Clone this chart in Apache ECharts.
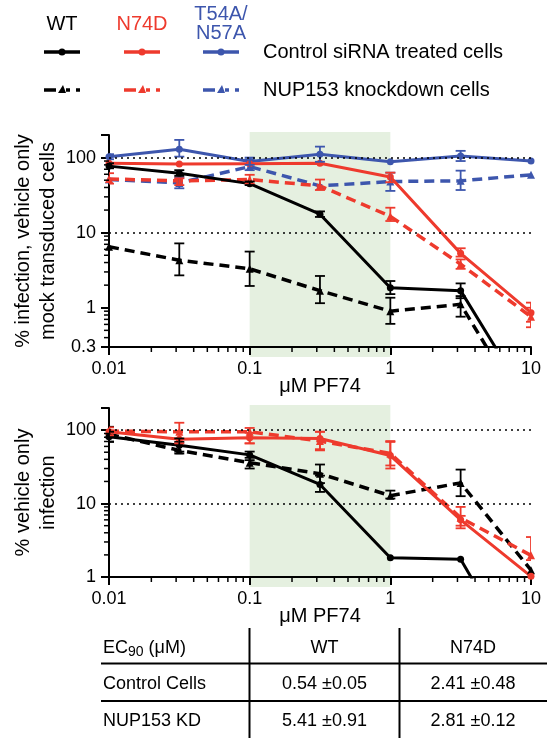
<!DOCTYPE html>
<html><head><meta charset="utf-8">
<script src="https://cdn.jsdelivr.net/npm/echarts@6/dist/echarts.min.js"></script>
<style>html,body{margin:0;padding:0;background:#fff}#c{width:547px;height:738px}</style>
</head><body><div id="c"></div>
<script>
// ---------- data ----------
const conc = [0.01, 0.0316, 0.1, 0.316, 1, 3.16, 10];
const xTicks = [0.01, 0.1, 1, 10];

// top panel: % infection, vehicle only mock transduced cells
const topWT      = [77, 62, 45, 17.6, 1.85, 1.69, 0.05];
const topWTLo    = [72, 57, 43, 16.2, 1.52, 1.34, null];
const topWTHi    = [84, 68, 48, 19.2, 2.27, 2.11, null];
const topWTkd    = [6.5, 4.3, 3.3, 1.69, 0.90, 1.11, 0.032];
const topWTkdLo  = [null, 2.7, 1.95, 1.15, 0.61, 0.76, null];
const topWTkdHi  = [null, 7.2, 5.6, 2.65, 1.36, 1.43, null];
const topN74D    = [84, 82, 83, 84, 55, 5.3, 0.86];
const topN74DLo  = [null, null, null, null, 47, 4.8, 0.65];
const topN74DHi  = [null, null, null, null, 63, 6.2, 1.17];
const topN74Dkd   = [52, 49, 51, 42, 16.5, 3.8, 0.76];
const topN74DkdLo = [45, 43, 45, 37, 14.3, 3.3, 0.55];
const topN74DkdHi = [62, 53, 59, 51, 21.5, 4.4, 1.0];
const topT54     = [103, 129, 89, 111, 88, 105, 90];
const topT54Lo   = [95, 103, 80, 88, null, 90, null];
const topT54Hi   = [111, 172, 100, 140, null, 123, null];
const topT54kd   = [51, 46, 76, 42, 48, 49, 59];
const topT54kdLo = [null, 39, 68, null, 36, 37, null];
const topT54kdHi = [null, 54, 95, null, 63, 67, null];

// bottom panel: % vehicle only infection
const botWT      = [81, 62, 46, 18.2, 1.83, 1.74, 0.04];
const botWTLo    = [70, 51, 39, 14.4, null, null, null];
const botWTHi    = [95, 77, 51, 24, 2.7, 2.6, null];
const botWTkd    = [88, 53, 36, 25.5, 12.8, 19.1, 1.24];
const botWTkdLo  = [69, 48, 30, 19, 11.7, 12.6, null];
const botWTkdHi  = [111, 69, 42, 34, 15, 29, null];
const botN74D    = [95, 75, 79, 77, 45, 6.0, 1.02];
const botN74DLo  = [null, null, 66, 53, 30, 4.6, null];
const botN74DHi  = [null, null, 92, 95, 69, 6.8, null];
const botN74Dkd   = [97, 95, 95, 71, 48, 6.4, 1.97];
const botN74DkdLo = [85, 66, 66, 55, 33, 5.0, 1.7];
const botN74DkdHi = [109, 126, 107, 95, 71, 9.0, 3.5];

// table
const tableHead = ['WT', 'N74D'];
const tableRows = ['Control Cells', 'NUP153 KD'];
const tableVals = [['0.54 ±0.05', '2.41 ±0.48'], ['5.41 ±0.91', '2.81 ±0.12']];

// ---------- styling ----------
const BLACK = '#000000', RED = '#ee3a2d', BLUE = '#3d56ad';
const FONT = '"Liberation Sans", Arial, Helvetica, sans-serif';
const chart = echarts.init(document.getElementById('c'), null, {renderer: 'canvas'});

function fmt(v) { return String(Number(Number(v).toPrecision(3))); }

function lineS(gi, vals, color, dashed) {
  return {
    type: 'line', xAxisIndex: gi, yAxisIndex: gi,
    data: conc.map((c, i) => [c, vals[i]]),
    symbol: dashed ? 'triangle' : 'circle',
    symbolSize: dashed ? 8 : 7,
    showSymbol: true, clip: true, animation: false, z: 3,
    lineStyle: {color: color, width: dashed ? 3.5 : 3, type: dashed ? [10, 6] : 'solid'},
    itemStyle: {color: color, borderWidth: 0}
  };
}
function errS(gi, lo, hi, color) {
  const d = [];
  conc.forEach((c, i) => { if (lo[i] != null) d.push([c, lo[i], hi[i]]); });
  return {
    type: 'custom', xAxisIndex: gi, yAxisIndex: gi, data: d, clip: true, animation: false, z: 4,
    encode: {x: 0, y: [1, 2]},
    renderItem: function (params, api) {
      const p1 = api.coord([api.value(0), api.value(1)]);
      const p2 = api.coord([api.value(0), api.value(2)]);
      const st = {stroke: color, lineWidth: 1.8};
      return {type: 'group', children: [
        {type: 'line', shape: {x1: p1[0], y1: p1[1], x2: p2[0], y2: p2[1]}, style: st},
        {type: 'line', shape: {x1: p1[0] - 5, y1: p1[1], x2: p1[0] + 5, y2: p1[1]}, style: st},
        {type: 'line', shape: {x1: p2[0] - 5, y1: p2[1], x2: p2[0] + 5, y2: p2[1]}, style: st}
      ]};
    }
  };
}
const refLines = {
  silent: true, symbol: ['none', 'none'], label: {show: false}, animation: false,
  lineStyle: {color: '#000', type: [2, 4], width: 1.6},
  data: [{yAxis: 100}, {yAxis: 10}]
};

function xAx(gi) {
  return {
    type: 'log', logBase: 10, gridIndex: gi, min: 0.01, max: 10,
    axisLine: {lineStyle: {color: '#000', width: 2}},
    axisTick: {length: 8, lineStyle: {color: '#000', width: 2}},
    axisLabel: {fontSize: 18, color: '#000', margin: 13, formatter: fmt, fontFamily: FONT},
    splitLine: {show: false},
    name: 'μM PF74', nameLocation: 'middle', nameGap: 29, nameMoveOverlap: false,
    nameTextStyle: {fontSize: 20, color: '#000', fontFamily: FONT}
  };
}
function yAx(gi, min, name) {
  return {
    type: 'log', logBase: 10, gridIndex: gi, min: min, max: 200,
    axisLine: {show: true, lineStyle: {color: '#000', width: 2}},
    axisTick: {show: true, length: 8, lineStyle: {color: '#000', width: 2}},
    axisLabel: {fontSize: 18, color: '#000', margin: 13, fontFamily: FONT,
      formatter: v => (v > 150 ? '' : fmt(v))},
    splitLine: {show: false},
    name: name, nameLocation: 'middle', nameGap: 48, nameRotate: 90, nameMoveOverlap: false,
    nameTextStyle: {fontSize: 20, lineHeight: 25, color: '#000', fontFamily: FONT, align: 'center'}
  };
}

const s0 = lineS(0, topT54kd, BLUE, true); s0.markLine = refLines;
const b0 = lineS(1, botWTkd, BLACK, true); b0.markLine = refLines;

chart.setOption({
  animation: false,
  textStyle: {fontFamily: FONT},
  grid: [
    {left: 109, top: 135, width: 422, height: 212},
    {left: 109, top: 408, width: 422, height: 169}
  ],
  xAxis: [xAx(0), xAx(1)],
  yAxis: [yAx(0, 0.3, '% infection, vehicle only\nmock transduced cells'),
          yAx(1, 1, '% vehicle only\ninfection')],
  series: [
    s0,
    lineS(0, topT54, BLUE, false),
    lineS(0, topN74Dkd, RED, true),
    lineS(0, topN74D, RED, false),
    lineS(0, topWTkd, BLACK, true),
    lineS(0, topWT, BLACK, false),
    errS(0, topT54kdLo, topT54kdHi, BLUE),
    errS(0, topT54Lo, topT54Hi, BLUE),
    errS(0, topN74DkdLo, topN74DkdHi, RED),
    errS(0, topN74DLo, topN74DHi, RED),
    errS(0, topWTkdLo, topWTkdHi, BLACK),
    errS(0, topWTLo, topWTHi, BLACK),
    b0,
    lineS(1, botN74Dkd, RED, true),
    lineS(1, botN74D, RED, false),
    lineS(1, botWT, BLACK, false),
    errS(1, botWTkdLo, botWTkdHi, BLACK),
    errS(1, botN74DkdLo, botN74DkdHi, RED),
    errS(1, botN74DLo, botN74DHi, RED),
    errS(1, botWTLo, botWTHi, BLACK)
  ]
});

// ---------- decorations: shaded band, minor log ticks, legend, table ----------
const g = [];
const grids = [{top: 135, bottom: 347, ymin: 0.3}, {top: 408, bottom: 577, ymin: 1}];
grids.forEach((gr, gi) => {
  const xa = chart.convertToPixel({xAxisIndex: gi}, 0.1);
  const xb = chart.convertToPixel({xAxisIndex: gi}, 1);
  g.push({type: 'rect', z: -5, silent: true,
    shape: {x: xa, y: gr.top - 3, width: xb - xa, height: gr.bottom - gr.top + 13},
    style: {fill: '#e5f0e0'}});
  // minor x ticks
  [0.01, 0.1, 1].forEach(d => {
    for (let k = 2; k <= 9; k++) {
      const px = chart.convertToPixel({xAxisIndex: gi}, d * k);
      g.push({type: 'line', z: 10, silent: true,
        shape: {x1: px, y1: gr.bottom, x2: px, y2: gr.bottom + 5},
        style: {stroke: '#000', lineWidth: 1.5}});
    }
  });
  // minor y ticks
  [0.1, 1, 10, 100].forEach(d => {
    for (let k = 2; k <= 9; k++) {
      const v = d * k;
      if (v <= gr.ymin || v >= 200) continue;
      const py = chart.convertToPixel({yAxisIndex: gi}, v);
      g.push({type: 'line', z: 10, silent: true,
        shape: {x1: 104, y1: py, x2: 109, y2: py},
        style: {stroke: '#000', lineWidth: 1.5}});
    }
  });
});

// legend
const legCols = [{t: 'WT', c: BLACK, x: 62}, {t: 'N74D', c: RED, x: 142}, {t: 'T54A/\nN57A', c: BLUE, x: 221}];
legCols.forEach(col => {
  g.push({type: 'text', x: col.x, y: 24, style: {text: col.t, fill: col.c, fontSize: 20, fontFamily: FONT,
    align: 'center', verticalAlign: 'middle', lineHeight: 19}});
  const x0 = col.x - 18, x1 = col.x + 18;
  g.push({type: 'line', shape: {x1: x0, y1: 52, x2: x1, y2: 52}, style: {stroke: col.c, lineWidth: 3.5}});
  g.push({type: 'circle', shape: {cx: col.x, cy: 52, r: 3.5}, style: {fill: col.c}});
  g.push({type: 'line', shape: {x1: x0, y1: 90, x2: x0 + 12, y2: 90}, style: {stroke: col.c, lineWidth: 3.5}});
  g.push({type: 'polygon', shape: {points: [[col.x - 4, 93], [col.x + 4, 93], [col.x + 1, 85]]}, style: {fill: col.c}});
  g.push({type: 'line', shape: {x1: col.x + 4, y1: 90, x2: col.x + 8, y2: 90}, style: {stroke: col.c, lineWidth: 3.5}});
  g.push({type: 'line', shape: {x1: x1 - 4, y1: 90, x2: x1, y2: 90}, style: {stroke: col.c, lineWidth: 3.5}});
});
g.push({type: 'text', x: 263, y: 52, style: {text: 'Control siRNA treated cells', fill: '#000', fontSize: 20, fontFamily: FONT, verticalAlign: 'middle'}});
g.push({type: 'text', x: 263, y: 90, style: {text: 'NUP153 knockdown cells', fill: '#000', fontSize: 20, fontFamily: FONT, verticalAlign: 'middle'}});

// table
const colX = [249.5, 399.5];
colX.forEach(x => g.push({type: 'line', shape: {x1: x, y1: 628, x2: x, y2: 738}, style: {stroke: '#000', lineWidth: 2}}));
[663.5, 701].forEach(y => g.push({type: 'line', shape: {x1: 101, y1: y, x2: 547, y2: y}, style: {stroke: '#000', lineWidth: 2}}));
const rowY = [648, 684, 721];
const colC = [324.5, 473];
g.push({type: 'text', x: 103, y: rowY[0], style: {
  text: 'EC{sub|90} (μM)', fill: '#000', fontSize: 18, fontFamily: FONT, verticalAlign: 'middle',
  rich: {sub: {fontSize: 14, fontFamily: FONT, fill: '#000', padding: [8, 0, 0, 0]}}}});
tableHead.forEach((h, j) => g.push({type: 'text', x: colC[j], y: rowY[0],
  style: {text: h, fill: '#000', fontSize: 18, fontFamily: FONT, align: 'center', verticalAlign: 'middle'}}));
tableRows.forEach((r, i) => {
  g.push({type: 'text', x: 103, y: rowY[i + 1], style: {text: r, fill: '#000', fontSize: 18, fontFamily: FONT, verticalAlign: 'middle'}});
  tableVals[i].forEach((v, j) => g.push({type: 'text', x: colC[j], y: rowY[i + 1],
    style: {text: v, fill: '#000', fontSize: 18, fontFamily: FONT, align: 'center', verticalAlign: 'middle'}}));
});

chart.setOption({graphic: {elements: g}});
</script></body></html>
